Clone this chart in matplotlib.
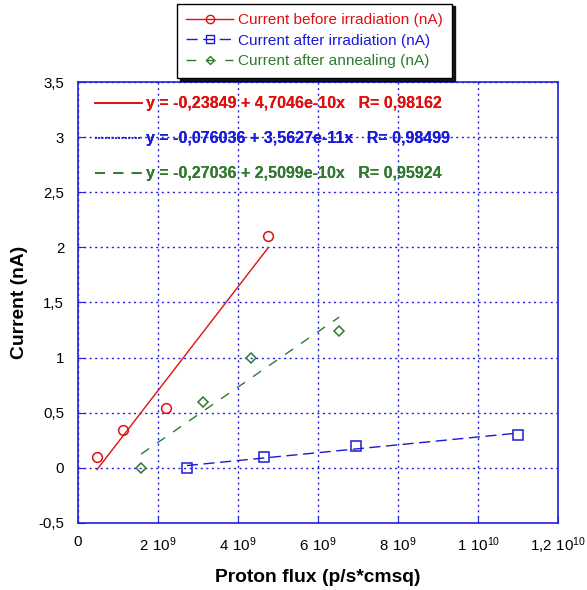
import matplotlib
matplotlib.use("Agg")
import matplotlib.pyplot as plt
from matplotlib.lines import Line2D
from matplotlib.ticker import FuncFormatter, MultipleLocator
import numpy as np

plt.rcParams["font.family"] = ["Liberation Sans", "DejaVu Sans"]
plt.rcParams["mathtext.fontset"] = "custom"
plt.rcParams["mathtext.rm"] = "Liberation Sans"

# data (x in p/s*cmsq, y in nA)
x_before = [0.475e9, 1.125e9, 2.2e9, 4.75e9]
y_before = [0.10, 0.345, 0.54, 2.10]
x_after = [2.72e9, 4.65e9, 6.95e9, 11.0e9]
y_after = [0.0, 0.10, 0.20, 0.30]
x_anneal = [1.575e9, 3.125e9, 4.325e9, 6.525e9]
y_anneal = [0.0, 0.60, 1.00, 1.245]

# fit coefficients (intercept, slope) and R from the chart
fit_before = (-0.23849, 4.7046e-10, 0.98162)
fit_after = (-0.076036, 3.5627e-11, 0.98499)
fit_anneal = (-0.27036, 2.5099e-10, 0.95924)

names = ["Current before irradiation (nA)",
         "Current after irradiation (nA)",
         "Current after annealing (nA)"]

RED = "#e01010"
BLUE = "#1a1ad8"
GREEN = "#2f7a2f"
GRIDBLUE = "#2020e0"


def fmt_num(v):
    return f"{v:g}".replace(".", ",")


def eq_label(fit):
    a, b, r = fit
    mant, ex = f"{b:.4e}".split("e")
    ex = int(ex)
    return f"y = {fmt_num(a)} + {mant.replace('.', ',')}e{ex}x   R= {fmt_num(r)}"


def xfmt(v, pos):
    if abs(v) < 1:
        return "0"
    ex = int(np.floor(np.log10(abs(v)) + 1e-9))
    m = v / 10 ** ex
    ms = f"{m:g}".replace(".", "{,}")
    return r"$\mathregular{" + ms + r"\ 10^{" + str(ex) + "}}$"


fig = plt.figure(figsize=(5.87, 5.90), dpi=100)
ax = fig.add_axes([0.133, 0.1136, 0.818, 0.7474])

series = [
    (x_before, y_before, fit_before, RED, "o", "-", 7),
    (x_after, y_after, fit_after, BLUE, "s", (0, (8, 4)), 7),
    (x_anneal, y_anneal, fit_anneal, GREEN, "D", (0, (7, 7)), 5),
]

leg_handles = []
eq_handles = []
eq_styles = ["-", (0, (1, 1)), (0, (6, 5))]
for (xs, ys, fit, col, mk, ls, ms), name, els in zip(series, names, eq_styles):
    ax.plot(xs, ys, linestyle="none", marker=mk, markersize=ms,
            markerfacecolor="none", markeredgecolor=col, markeredgewidth=1.1,
            zorder=3)
    xx = np.linspace(min(xs), max(xs), 50)
    ax.plot(xx, fit[0] + fit[1] * xx, color=col, linestyle=ls, linewidth=1.0,
            zorder=2)
    leg_handles.append(Line2D([], [], color=col, linestyle=ls, linewidth=1.0,
                              marker=mk, markersize=ms - 1,
                              markerfacecolor="none", markeredgecolor=col))
    eq_handles.append(Line2D([], [], color=col, linestyle=els, linewidth=1.2))

ax.set_xlim(0, 1.2e10)
ax.set_ylim(-0.5, 3.5)
ax.xaxis.set_major_locator(MultipleLocator(2e9))
ax.yaxis.set_major_locator(MultipleLocator(0.5))
ax.xaxis.set_major_formatter(FuncFormatter(xfmt))
ax.yaxis.set_major_formatter(FuncFormatter(lambda v, p: fmt_num(round(v, 2))))

ax.grid(True, color=GRIDBLUE, linestyle=(0, (1.5, 2.5)), linewidth=1.0)
for s in ax.spines.values():
    s.set_color(GRIDBLUE)
    s.set_linewidth(1.2)
ax.tick_params(direction="in", length=5, color=GRIDBLUE, labelsize=10.8,
               top=False, right=False)
ax.tick_params(axis="x", pad=9)
ax.tick_params(axis="y", pad=10)

ax.set_xlabel("Proton flux (p/s*cmsq)", fontsize=13.9, fontweight="bold")
ax.set_ylabel("Current (nA)", fontsize=13.9, fontweight="bold")
ax.xaxis.set_label_coords(0.5, -0.104)
ax.yaxis.set_label_coords(-0.104, 0.5)

# fit equations
eq_leg = ax.legend(eq_handles, [eq_label(f) for f in (fit_before, fit_after, fit_anneal)],
                   loc="upper left", bbox_to_anchor=(0.006, 1.0),
                   frameon=False, handlelength=2.95, handletextpad=0.25,
                   labelspacing=1.25, labelcolor="linecolor",
                   prop={"weight": "bold", "size": 11.5})
ax.add_artist(eq_leg)

# series legend above the plot
fig.legend(leg_handles, names, loc="upper left",
           bbox_to_anchor=(0.296, 0.999), frameon=True, fancybox=False,
           shadow={"color": "black", "alpha": 0.9}, edgecolor="black",
           labelcolor="linecolor", fontsize=11.1, handlelength=3.0,
           handletextpad=0.35, labelspacing=0.42, borderpad=0.62,
           borderaxespad=0.2)

fig.savefig("out.png", dpi=100)
